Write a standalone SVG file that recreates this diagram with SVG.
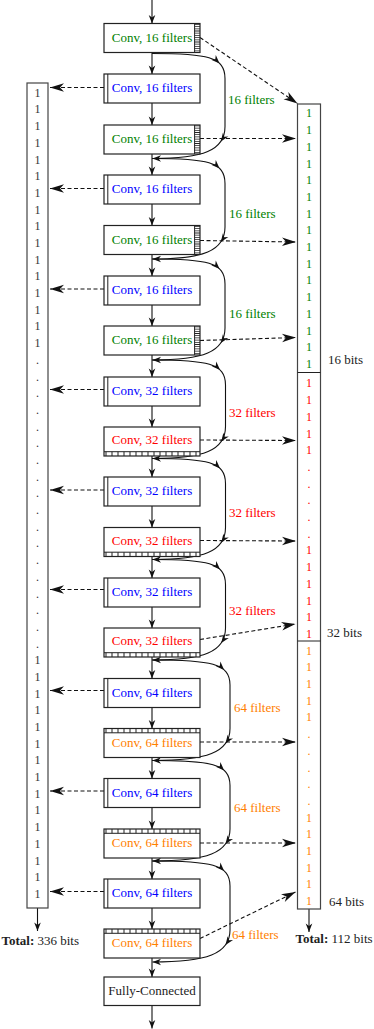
<svg xmlns="http://www.w3.org/2000/svg" xmlns:xlink="http://www.w3.org/1999/xlink" width="374" height="1029" viewBox="0 0 374 1029" font-family="'Liberation Serif', 'Times New Roman', 'DejaVu Serif', serif">
<defs>
<style>
text, tspan{font-family:'Liberation Serif', 'Times New Roman', 'DejaVu Serif', serif}
.box{fill:#fff;stroke:#222;stroke-width:1.2}
.ln{fill:none;stroke:#222;stroke-width:1}
.hv{fill:none;stroke:#222;stroke-width:5.4;stroke-dasharray:0.8 1.4}
.hh{fill:none;stroke:#222;stroke-width:4.3;stroke-dasharray:1 5}
.lbl{font-size:13px;text-anchor:middle}
.sl{font-size:13px}
.g{fill:#008000}.b{fill:#0000ff}.r{fill:#ff0000}.o{fill:#ff8000}.k{fill:#222}
.e{fill:none;stroke:#111;stroke-width:1.1}
.d{stroke-dasharray:4 2.5}
.col{fill:#fff;stroke:#444;stroke-width:1.2}
.ent{font-size:12px;text-anchor:middle}
</style>
<marker id="ah" markerUnits="userSpaceOnUse" markerWidth="10" markerHeight="8" viewBox="0 0 10 8" refX="9" refY="4" orient="auto"><path d="M9,4 L0.5,0.7 L3,4 L0.5,7.3 Z" fill="#111"/></marker>
<marker id="ahd" markerUnits="userSpaceOnUse" markerWidth="16" markerHeight="10" viewBox="0 0 16 10" refX="15" refY="5" orient="auto"><path d="M15,5 L1,0.7 L5,5 L1,9.3 Z" fill="#111"/></marker>
<path id="mh" d="M0,0 L-8.5,-3.3 L-6,0 L-8.5,3.3 Z" fill="#111"/>
</defs>
<rect x="0" y="0" width="374" height="1029" fill="#fff"/>

<g id="connectors">
<g marker-end="url(#ah)">
<path class="e" d="M152,0V23.5"/>
<path class="e" d="M152,52.5V74"/>
<path class="e" d="M152,103V125"/>
<path class="e" d="M152,154V175"/>
<path class="e" d="M152,204V225.5"/>
<path class="e" d="M152,254.5V276"/>
<path class="e" d="M152,305V326"/>
<path class="e" d="M152,355V377"/>
<path class="e" d="M152,406V427"/>
<path class="e" d="M152,456V477"/>
<path class="e" d="M152,506V527.5"/>
<path class="e" d="M152,556.5V578"/>
<path class="e" d="M152,607V628"/>
<path class="e" d="M152,657V678.5"/>
<path class="e" d="M152,707.5V728.5"/>
<path class="e" d="M152,757.5V778.5"/>
<path class="e" d="M152,807.5V829"/>
<path class="e" d="M152,858V879"/>
<path class="e" d="M152,908V929"/>
<path class="e" d="M152,958V977"/>
<path class="e" d="M152,1005.5V1028.5"/>
<path class="e" d="M37.5,908V931"/>
<path class="e" d="M309,909V932"/>
<path class="e" d="M152,53.5 C206.75,53.5 225,56.5 225,78.5 L225,126.5 C225,150.5 203.1,158.5 152.5,158.5"/>
<path class="e" d="M152,158.5 C206.75,158.5 225,161.5 225,183.5 L225,227 C225,251 203.1,259 152.5,259"/>
<path class="e" d="M152,259 C206.75,259 225,262 225,284 L225,328 C225,352 203.1,360 152.5,360"/>
<path class="e" d="M152,360 C207.1,360 225.5,363 225.5,385 L225.5,426.5 C225.5,450.5 203.45,458.5 152.5,458.5"/>
<path class="e" d="M152,458.5 C207.1,458.5 225.5,461.5 225.5,483.5 L225.5,527.5 C225.5,551.5 203.45,559.5 152.5,559.5"/>
<path class="e" d="M152,559.5 C207.1,559.5 225.5,562.5 225.5,584.5 L225.5,628 C225.5,652 203.45,660 152.5,660"/>
<path class="e" d="M152,660 C210.5,660 230,663 230,685 L230,728.5 C230,752.5 206.6,760.5 152.5,760.5"/>
<path class="e" d="M152,760.5 C210.5,760.5 230,763.5 230,785.5 L230,829 C230,853 206.6,861 152.5,861"/>
<path class="e" d="M152,861 C210.5,861 230,864 230,886 L230,930 C230,954 206.6,962 152.5,962"/>
</g>
<use xlink:href="#mh" href="#mh" transform="translate(219.6,63.4) rotate(44)"/>
<use xlink:href="#mh" href="#mh" transform="translate(220.8,141.6) rotate(124.6)"/>
<use xlink:href="#mh" href="#mh" transform="translate(219.6,168.4) rotate(44)"/>
<use xlink:href="#mh" href="#mh" transform="translate(220.8,242.1) rotate(124.6)"/>
<use xlink:href="#mh" href="#mh" transform="translate(219.6,268.9) rotate(44)"/>
<use xlink:href="#mh" href="#mh" transform="translate(220.8,343.1) rotate(124.6)"/>
<use xlink:href="#mh" href="#mh" transform="translate(220.1,369.9) rotate(44)"/>
<use xlink:href="#mh" href="#mh" transform="translate(221.25,441.6) rotate(124.6)"/>
<use xlink:href="#mh" href="#mh" transform="translate(220.1,468.4) rotate(44)"/>
<use xlink:href="#mh" href="#mh" transform="translate(221.25,542.6) rotate(124.6)"/>
<use xlink:href="#mh" href="#mh" transform="translate(220.1,569.4) rotate(44)"/>
<use xlink:href="#mh" href="#mh" transform="translate(221.25,643.1) rotate(124.6)"/>
<use xlink:href="#mh" href="#mh" transform="translate(224.2,669.9) rotate(44)"/>
<use xlink:href="#mh" href="#mh" transform="translate(225.5,743.6) rotate(124.6)"/>
<use xlink:href="#mh" href="#mh" transform="translate(224.2,770.4) rotate(44)"/>
<use xlink:href="#mh" href="#mh" transform="translate(225.5,844.1) rotate(124.6)"/>
<use xlink:href="#mh" href="#mh" transform="translate(224.2,870.9) rotate(44)"/>
<use xlink:href="#mh" href="#mh" transform="translate(225.5,945.1) rotate(124.6)"/>
<g marker-end="url(#ahd)">
<path class="e d" d="M200,37.5 L297.5,103.5"/>
<path class="e d" d="M200,138.5 L296,138.5"/>
<path class="e d" d="M200,240.5 L296,242"/>
<path class="e d" d="M200,340.5 L296,337.5"/>
<path class="e d" d="M200,440 L296,440.5"/>
<path class="e d" d="M200,540.5 L296,541"/>
<path class="e d" d="M200,639.5 L295.5,624"/>
<path class="e d" d="M200,742 L296,742"/>
<path class="e d" d="M200,843 L296,843"/>
<path class="e d" d="M200,938.5 L295.5,892"/>
<path class="e d" d="M104,87.5 L50,87.5"/>
<path class="e d" d="M104,188.5 L50,188.5"/>
<path class="e d" d="M104,289 L50,289"/>
<path class="e d" d="M104,389.5 L50,389.5"/>
<path class="e d" d="M104,490 L50,490"/>
<path class="e d" d="M104,589.5 L50,589.5"/>
<path class="e d" d="M104,690.5 L50,690.5"/>
<path class="e d" d="M104,791 L50,791"/>
<path class="e d" d="M104,891.5 L50,891.5"/>
</g>
<text class="sl g" x="228" y="103.5">16 filters</text>
<text class="sl g" x="229" y="217.5">16 filters</text>
<text class="sl g" x="229" y="317.5">16 filters</text>
<text class="sl r" x="229" y="416.5">32 filters</text>
<text class="sl r" x="229" y="516.5">32 filters</text>
<text class="sl r" x="229" y="614.5">32 filters</text>
<text class="sl o" x="234" y="711.5">64 filters</text>
<text class="sl o" x="234" y="811.5">64 filters</text>
<text class="sl o" x="232" y="938.5">64 filters</text>
</g>

<g id="n0"><rect class="box" x="104" y="23.5" width="96" height="29"/><path class="ln" d="M194.6,23.5V52.5"/><path class="hv" d="M197.3,24V52"/><text class="lbl g" x="152" y="41.5">Conv, 16 filters</text></g>
<g id="n1"><rect class="box" x="104" y="74" width="96" height="29"/><path class="ln" d="M107.8,74V103"/><text class="lbl b" x="152" y="92">Conv, 16 filters</text></g>
<g id="n2"><rect class="box" x="104" y="125" width="96" height="29"/><path class="ln" d="M194.6,125V154"/><path class="hv" d="M197.3,125.5V153.5"/><text class="lbl g" x="152" y="143">Conv, 16 filters</text></g>
<g id="n3"><rect class="box" x="104" y="175" width="96" height="29"/><path class="ln" d="M107.8,175V204"/><text class="lbl b" x="152" y="193">Conv, 16 filters</text></g>
<g id="n4"><rect class="box" x="104" y="225.5" width="96" height="29"/><path class="ln" d="M194.6,225.5V254.5"/><path class="hv" d="M197.3,226V254"/><text class="lbl g" x="152" y="243.5">Conv, 16 filters</text></g>
<g id="n5"><rect class="box" x="104" y="276" width="96" height="29"/><path class="ln" d="M107.8,276V305"/><text class="lbl b" x="152" y="294">Conv, 16 filters</text></g>
<g id="n6"><rect class="box" x="104" y="326" width="96" height="29"/><path class="ln" d="M194.6,326V355"/><path class="hv" d="M197.3,326.5V354.5"/><text class="lbl g" x="152" y="344">Conv, 16 filters</text></g>
<g id="n7"><rect class="box" x="104" y="377" width="96" height="29"/><path class="ln" d="M107.8,377V406"/><text class="lbl b" x="152" y="395">Conv, 32 filters</text></g>
<g id="n8"><rect class="box" x="104" y="427" width="96" height="29"/><path class="ln" d="M104,451.7H200"/><path class="hh" d="M105.5,453.85H199.5"/><text class="lbl r" x="152" y="444">Conv, 32 filters</text></g>
<g id="n9"><rect class="box" x="104" y="477" width="96" height="29"/><path class="ln" d="M107.8,477V506"/><text class="lbl b" x="152" y="495">Conv, 32 filters</text></g>
<g id="n10"><rect class="box" x="104" y="527.5" width="96" height="29"/><path class="ln" d="M104,552.2H200"/><path class="hh" d="M105.5,554.35H199.5"/><text class="lbl r" x="152" y="544.5">Conv, 32 filters</text></g>
<g id="n11"><rect class="box" x="104" y="578" width="96" height="29"/><path class="ln" d="M107.8,578V607"/><text class="lbl b" x="152" y="596">Conv, 32 filters</text></g>
<g id="n12"><rect class="box" x="104" y="628" width="96" height="29"/><path class="ln" d="M104,652.7H200"/><path class="hh" d="M105.5,654.85H199.5"/><text class="lbl r" x="152" y="645">Conv, 32 filters</text></g>
<g id="n13"><rect class="box" x="104" y="678.5" width="96" height="29"/><path class="ln" d="M107.8,678.5V707.5"/><text class="lbl b" x="152" y="696.5">Conv, 64 filters</text></g>
<g id="n14"><rect class="box" x="104" y="728.5" width="96" height="29"/><path class="ln" d="M104,732.8H200"/><path class="hh" d="M105.5,730.65H199.5"/><text class="lbl o" x="152" y="746.5">Conv, 64 filters</text></g>
<g id="n15"><rect class="box" x="104" y="778.5" width="96" height="29"/><path class="ln" d="M107.8,778.5V807.5"/><text class="lbl b" x="152" y="796.5">Conv, 64 filters</text></g>
<g id="n16"><rect class="box" x="104" y="829" width="96" height="29"/><path class="ln" d="M104,833.3H200"/><path class="hh" d="M105.5,831.15H199.5"/><text class="lbl o" x="152" y="847">Conv, 64 filters</text></g>
<g id="n17"><rect class="box" x="104" y="879" width="96" height="29"/><path class="ln" d="M107.8,879V908"/><text class="lbl b" x="152" y="897">Conv, 64 filters</text></g>
<g id="n18"><rect class="box" x="104" y="929" width="96" height="29"/><path class="ln" d="M104,933.3H200"/><path class="hh" d="M105.5,931.15H199.5"/><text class="lbl o" x="152" y="947">Conv, 64 filters</text></g>
<g id="fc"><rect class="box" x="104" y="977" width="96" height="28.5"/><text class="lbl k" x="152" y="995">Fully-Connected</text></g>

<g id="left-bits">
<rect class="col" x="27" y="83" width="21" height="825"/>
<text class="ent" fill="#333" x="37.5" y="96.8">1<tspan x="37.5" y="113.49">1</tspan><tspan x="37.5" y="130.18">1</tspan><tspan x="37.5" y="146.87">1</tspan><tspan x="37.5" y="163.56">1</tspan><tspan x="37.5" y="180.25">1</tspan><tspan x="37.5" y="196.94">1</tspan><tspan x="37.5" y="213.63">1</tspan><tspan x="37.5" y="230.32">1</tspan><tspan x="37.5" y="247.01">1</tspan><tspan x="37.5" y="263.7">1</tspan><tspan x="37.5" y="280.39">1</tspan><tspan x="37.5" y="297.08">1</tspan><tspan x="37.5" y="313.77">1</tspan><tspan x="37.5" y="330.46">1</tspan><tspan x="37.5" y="347.15">1</tspan><tspan x="37.5" y="363.84">.</tspan><tspan x="37.5" y="380.53">.</tspan><tspan x="37.5" y="397.22">.</tspan><tspan x="37.5" y="413.91">.</tspan><tspan x="37.5" y="430.6">.</tspan><tspan x="37.5" y="447.29">.</tspan><tspan x="37.5" y="463.98">.</tspan><tspan x="37.5" y="480.67">.</tspan><tspan x="37.5" y="497.36">.</tspan><tspan x="37.5" y="514.05">.</tspan><tspan x="37.5" y="530.74">.</tspan><tspan x="37.5" y="547.43">.</tspan><tspan x="37.5" y="564.12">.</tspan><tspan x="37.5" y="580.81">.</tspan><tspan x="37.5" y="597.5">.</tspan><tspan x="37.5" y="614.19">.</tspan><tspan x="37.5" y="630.88">.</tspan><tspan x="37.5" y="647.57">.</tspan><tspan x="37.5" y="664.26">1</tspan><tspan x="37.5" y="680.95">1</tspan><tspan x="37.5" y="697.64">1</tspan><tspan x="37.5" y="714.33">1</tspan><tspan x="37.5" y="731.02">1</tspan><tspan x="37.5" y="747.71">1</tspan><tspan x="37.5" y="764.4">1</tspan><tspan x="37.5" y="781.09">1</tspan><tspan x="37.5" y="797.78">1</tspan><tspan x="37.5" y="814.47">1</tspan><tspan x="37.5" y="831.16">1</tspan><tspan x="37.5" y="847.85">1</tspan><tspan x="37.5" y="864.54">1</tspan><tspan x="37.5" y="881.23">1</tspan><tspan x="37.5" y="897.92">1</tspan></text>
<text class="sl k" x="1.5" y="945"><tspan font-weight="bold">Total:</tspan> 336 bits</text>
</g>

<g id="right-bits">
<rect class="col" x="297.5" y="104" width="23" height="805"/>
<path class="ln" stroke="#444" d="M297.5,372.5H320.5M297.5,641H320.5"/>
<text class="ent g" x="309" y="117.4">1<tspan x="309" y="134.1">1</tspan><tspan x="309" y="150.8">1</tspan><tspan x="309" y="167.5">1</tspan><tspan x="309" y="184.2">1</tspan><tspan x="309" y="200.9">1</tspan><tspan x="309" y="217.6">1</tspan><tspan x="309" y="234.3">1</tspan><tspan x="309" y="251">1</tspan><tspan x="309" y="267.7">1</tspan><tspan x="309" y="284.4">1</tspan><tspan x="309" y="301.1">1</tspan><tspan x="309" y="317.8">1</tspan><tspan x="309" y="334.5">1</tspan><tspan x="309" y="351.2">1</tspan><tspan x="309" y="367.9">1</tspan></text>
<text class="ent r" x="309" y="387.4">1<tspan x="309" y="404.1">1</tspan><tspan x="309" y="420.8">1</tspan><tspan x="309" y="437.5">1</tspan><tspan x="309" y="454.2">1</tspan><tspan x="309" y="470.9">.</tspan><tspan x="309" y="487.6">.</tspan><tspan x="309" y="504.3">.</tspan><tspan x="309" y="521">.</tspan><tspan x="309" y="537.7">.</tspan><tspan x="309" y="554.4">1</tspan><tspan x="309" y="571.1">1</tspan><tspan x="309" y="587.8">1</tspan><tspan x="309" y="604.5">1</tspan><tspan x="309" y="621.2">1</tspan><tspan x="309" y="637.9">1</tspan></text>
<text class="ent o" x="309" y="654.6">1<tspan x="309" y="671.3">1</tspan><tspan x="309" y="688">1</tspan><tspan x="309" y="704.7">1</tspan><tspan x="309" y="721.4">1</tspan><tspan x="309" y="738.1">.</tspan><tspan x="309" y="754.8">.</tspan><tspan x="309" y="771.5">.</tspan><tspan x="309" y="788.2">.</tspan><tspan x="309" y="804.9">.</tspan><tspan x="309" y="821.6">1</tspan><tspan x="309" y="838.3">1</tspan><tspan x="309" y="855">1</tspan><tspan x="309" y="871.7">1</tspan><tspan x="309" y="888.4">1</tspan><tspan x="309" y="905.1">1</tspan></text>
<text class="sl k" x="328" y="363.5">16 bits</text>
<text class="sl k" x="327" y="636.8">32 bits</text>
<text class="sl k" x="329" y="906.2">64 bits</text>
<text class="sl k" x="295.5" y="943"><tspan font-weight="bold">Total:</tspan> 112 bits</text>
</g>
</svg>
